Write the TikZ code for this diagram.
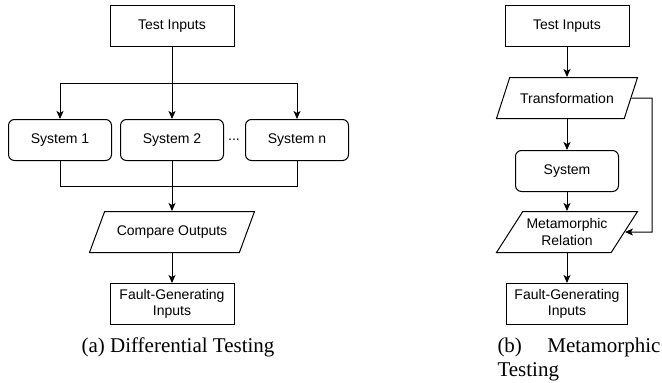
\documentclass[tikz,border=0pt]{standalone}
\usepackage{fontspec}
\setmainfont{Liberation Serif}
\newfontfamily\boxfont{Liberation Sans}
\usetikzlibrary{arrows.meta,shapes.geometric}

\begin{document}
\begin{tikzpicture}[x=1pt,y=-1pt,>={Stealth[length=8pt,width=7pt,inset=2pt]},line width=1pt]
	\tikzstyle{every node} = [font=\boxfont\fontsize{14}{16.7}\selectfont,align=center];
	\tikzstyle{stage} = [rectangle,draw=black,minimum width=124pt,minimum height=41pt];
	\tikzstyle{sys} = [rectangle,rounded corners=6pt,draw=black,minimum width=103pt,minimum height=41pt];
	\tikzstyle{io} = [trapezium,trapezium left angle=52,trapezium right angle=128,trapezium stretches body,draw=black,minimum height=41pt];
	\tikzstyle{caption} = [font=\fontsize{21}{24}\selectfont,inner sep=0pt];
	\useasboundingbox (0,0) rectangle (662,383);
	% (a) differential testing
	\node[stage] (inA) at (172,26) {Test Inputs};
	\node[sys] (sysA) at (60,140) {System 1};
	\node[sys] (sysB) at (172,140) {System 2};
	\node[sys] (sysN) at (297,140) {System n};
	\node[inner sep=0pt] (dots) at (234,140) {...};
	\node[io,minimum width=165pt] (cmp) at (172,232) {Compare Outputs};
	\node[stage] (outA) at (172,304) {Fault-Generating\\Inputs};
	\node[caption,anchor=north] (capA) at (178,337) {(a) Differential Testing};
	\coordinate (split) at (172,83);
	\coordinate (join) at (172,186);
	\draw (inA) -- (split);
	\draw[->] (split) -| (sysA);
	\draw[->] (split) -- (sysB);
	\draw[->] (split) -| (sysN);
	\draw (sysA) |- (join);
	\draw (sysN) |- (join);
	\draw (sysB) -- (join);
	\draw[->] (join) -- (cmp);
	\draw[->] (cmp) -- (outA);
	% (b) metamorphic testing
	\node[stage] (inB) at (567,26) {Test Inputs};
	\node[io,minimum width=141pt] (trans) at (567,98) {Transformation};
	\node[sys] (sysM) at (567,171) {System};
	\node[io,minimum width=141pt] (mr) at (567,232) {Metamorphic\\Relation};
	\node[stage,minimum width=121pt] (outB) at (567,304) {Fault-Generating\\Inputs};
	\node[caption,anchor=north west,align=left] (capB) at (497,337) {\hbox to 163pt{(b)\hfil Metamorphic}\\Testing};
	\coordinate (loop) at (652,98);
	\draw[->] (inB) -- (trans);
	\draw[->] (trans) -- (sysM);
	\draw[->] (sysM) -- (mr);
	\draw[->] (mr) -- (outB);
	\draw[->] (trans.east) -- (loop) |- (mr.east);
\end{tikzpicture}
\end{document}
